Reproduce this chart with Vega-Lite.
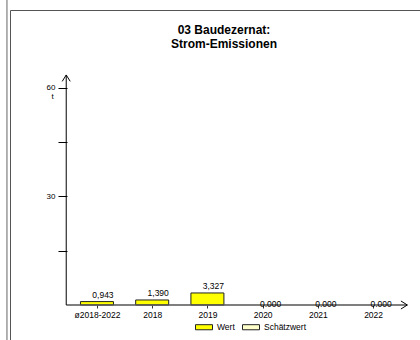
{
  "$schema": "https://vega.github.io/schema/vega-lite/v6.json",
  "width": 412,
  "height": 332,
  "autosize": {"type": "none"},
  "padding": {"left": 10, "top": 10, "right": 0, "bottom": 0},
  "background": "white",
  "config": {
    "view": {"stroke": "#555555", "strokeWidth": 1},
    "font": "Liberation Sans",
    "text": {"font": "Liberation Sans"}
  },
  "title": {
    "text": ["03 Baudezernat:", "Strom-Emissionen"],
    "font": "Liberation Sans",
    "fontSize": 12,
    "fontWeight": "bold",
    "color": "#000000",
    "anchor": "middle",
    "lineHeight": 14,
    "offset": -52,
    "dx": 8
  },
  "data": {
    "values": [
      {"kat": "ø2018-2022", "nr": 0, "wert": 0.943, "txt": "0,943", "typ": "Wert"},
      {"kat": "2018", "nr": 1, "wert": 1.390, "txt": "1,390", "typ": "Wert"},
      {"kat": "2019", "nr": 2, "wert": 3.327, "txt": "3,327", "typ": "Wert"},
      {"kat": "2020", "nr": 3, "wert": 0, "txt": "0.000", "typ": "Wert"},
      {"kat": "2021", "nr": 4, "wert": 0, "txt": "0.000", "typ": "Wert"},
      {"kat": "2022", "nr": 5, "wert": 0, "txt": "0.000", "typ": "Wert"}
    ]
  },
  "layer": [
    {
      "transform": [{"filter": "datum.wert > 0"}],
      "mark": {"type": "bar", "width": 33, "stroke": "#222222", "strokeWidth": 1},
      "encoding": {
        "x": {
          "field": "nr", "type": "quantitative",
          "scale": {"domain": [-1.484, 5.795], "nice": false, "zero": false},
          "axis": {
            "values": [0, 1, 2, 3, 4, 5],
            "labelExpr": "['ø2018-2022','2018','2019','2020','2021','2022'][datum.value]",
            "offset": -37, "domain": false, "grid": false,
            "tickSize": 3, "tickColor": "#333333",
            "labelFontSize": 8.5, "labelColor": "#000000", "labelPadding": 2,
            "labelFont": "Liberation Sans", "labelFlush": false, "labelOverlap": false,
            "title": null
          }
        },
        "y": {
          "field": "wert", "type": "quantitative",
          "scale": {"domain": [-10.23, 81.56], "nice": false, "zero": false},
          "axis": {
            "values": [15, 30, 45, 60],
            "labelExpr": "datum.value % 30 == 0 ? datum.label : ''",
            "offset": -57, "domain": false, "grid": false,
            "tickSize": 9, "tickColor": "#000000",
            "labelFontSize": 8, "labelColor": "#000000", "labelPadding": 3,
            "labelFont": "Liberation Sans", "labelOverlap": false,
            "title": "t", "titleAngle": 0, "titleFontSize": 8, "titleFontWeight": "normal",
            "titleFont": "Liberation Sans", "titleColor": "#000000",
            "titleX": -15, "titleY": 86, "titleAlign": "center", "titleBaseline": "middle"
          }
        },
        "y2": {"datum": 0},
        "fill": {
          "field": "typ", "type": "nominal",
          "scale": {"domain": ["Wert", "Schätzwert"], "range": ["#ffff00", "#ffffcc"]},
          "legend": {
            "orient": "none", "legendX": 185, "legendY": 308,
            "direction": "horizontal", "title": null,
            "symbolType": "M-1,-0.3H1V0.3H-1Z", "symbolSize": 289,
            "symbolStrokeColor": "#222222", "symbolStrokeWidth": 1,
            "labelFontSize": 8.5, "labelFont": "Liberation Sans", "labelColor": "#000000",
            "labelOffset": 4, "columnPadding": 5, "padding": 0
          }
        }
      }
    },
    {
      "data": {"values": [{}]},
      "mark": {"type": "rule", "stroke": "#999999", "strokeWidth": 1.5},
      "encoding": {
        "x": {"datum": -1.63, "type": "quantitative", "scale": {"domain": [-1.484, 5.795], "nice": false, "zero": false}},
        "y": {"datum": 84.3, "type": "quantitative", "scale": {"domain": [-10.23, 81.56], "nice": false, "zero": false}},
        "y2": {"datum": -10.3}
      }
    },
    {
      "data": {"values": [{}]},
      "mark": {"type": "rule", "stroke": "#555555", "strokeWidth": 1.5},
      "encoding": {
        "x": {"datum": -0.5565, "type": "quantitative", "scale": {"domain": [-1.484, 5.795], "nice": false, "zero": false}},
        "x2": {"datum": 5.62},
        "y": {"datum": 0, "type": "quantitative", "scale": {"domain": [-10.23, 81.56], "nice": false, "zero": false}}
      }
    },
    {
      "data": {"values": [{}]},
      "mark": {"type": "rule", "stroke": "#000000", "strokeWidth": 1},
      "encoding": {
        "x": {"datum": -0.5565, "type": "quantitative", "scale": {"domain": [-1.484, 5.795], "nice": false, "zero": false}},
        "y": {"datum": 0, "type": "quantitative", "scale": {"domain": [-10.23, 81.56], "nice": false, "zero": false}},
        "y2": {"datum": 63.6}
      }
    },
    {
      "data": {"values": [{}]},
      "mark": {"type": "point", "shape": "M-1,1.6L0,0L1,1.6", "size": 64, "filled": false, "stroke": "#000000", "strokeWidth": 1, "opacity": 1},
      "encoding": {
        "x": {"datum": -0.5565, "type": "quantitative", "scale": {"domain": [-1.484, 5.795], "nice": false, "zero": false}},
        "y": {"datum": 63.6, "type": "quantitative", "scale": {"domain": [-10.23, 81.56], "nice": false, "zero": false}}
      }
    },
    {
      "data": {"values": [{}]},
      "mark": {"type": "point", "shape": "M-1.6,-1L0,0L-1.6,1", "size": 64, "filled": false, "stroke": "#000000", "strokeWidth": 1, "opacity": 1},
      "encoding": {
        "x": {"datum": 5.62, "type": "quantitative", "scale": {"domain": [-1.484, 5.795], "nice": false, "zero": false}},
        "y": {"datum": 0, "type": "quantitative", "scale": {"domain": [-10.23, 81.56], "nice": false, "zero": false}}
      }
    },
    {
      "transform": [{"filter": "datum.wert > 0"}],
      "mark": {"type": "text", "fontSize": 8.5, "dx": 6, "dy": -2, "baseline": "bottom", "align": "center", "color": "#000000"},
      "encoding": {
        "x": {"field": "nr", "type": "quantitative", "scale": {"domain": [-1.484, 5.795], "nice": false, "zero": false}},
        "y": {"field": "wert", "type": "quantitative", "scale": {"domain": [-10.23, 81.56], "nice": false, "zero": false}},
        "text": {"field": "txt"}
      }
    },
    {
      "transform": [{"filter": "datum.wert == 0"}],
      "mark": {"type": "text", "fontSize": 8.5, "dx": 8, "dy": -0.5, "baseline": "middle", "align": "center", "color": "#000000"},
      "encoding": {
        "x": {"field": "nr", "type": "quantitative", "scale": {"domain": [-1.484, 5.795], "nice": false, "zero": false}},
        "y": {"field": "wert", "type": "quantitative", "scale": {"domain": [-10.23, 81.56], "nice": false, "zero": false}},
        "text": {"field": "txt"}
      }
    }
  ]
}
